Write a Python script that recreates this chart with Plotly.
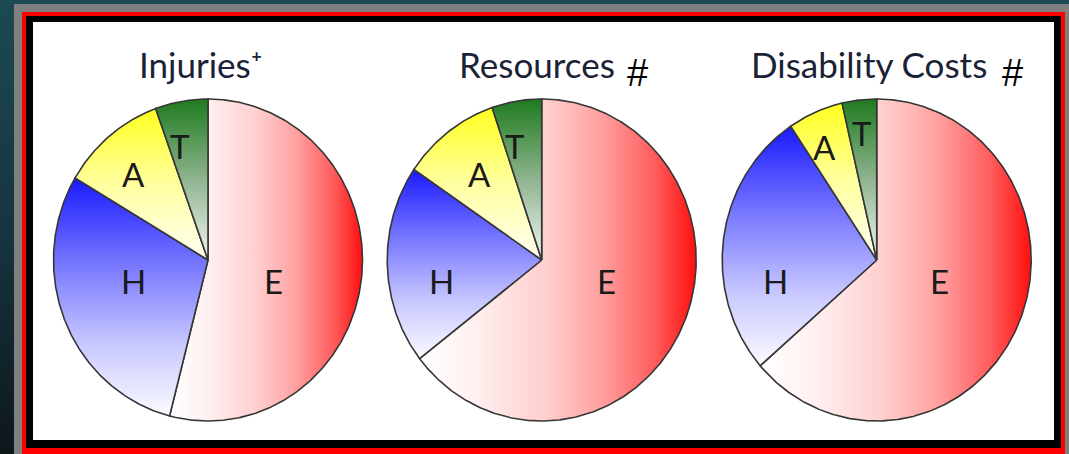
import math
import plotly.graph_objects as go

# ---------------- data ----------------
categories = ["E", "H", "A", "T"]
chart_titles = ["Injuries\u207a", "Resources", "Disability Costs"]
title_marks = ["", "#", "#"]
injuries = [54.0, 29.5, 11.0, 5.5]
resources = [64.5, 20.0, 10.3, 5.2]
disability_costs = [63.6, 27.0, 5.8, 3.6]
series = [injuries, resources, disability_costs]

# ---------------- layout constants (pixels) ----------------
W, H = 1069, 454
centers_x = [208, 541.7, 876.7]
cy = 260
rx, ry = 154.5, 161
title_x = [200, 537, 869]
title_y = 64
mark_x = [None, 637, 1012]
mark_y = 73
# label placement offsets from each pie centre (layout, in pixels)
label_offsets = [
    {"E": (65, 21), "H": (-75, 21), "A": (-75, -86), "T": (-28, -114)},
    {"E": (65, 21), "H": (-100, 21), "A": (-62, -86), "T": (-27, -114)},
    {"E": (63, 21), "H": (-101, 21), "A": (-52, -113), "T": (-15, -127)},
]

slice_fill = {
    "E": ("horizontal", [[0, "#ffffff"], [0.2, "#fff0f0"], [0.45, "#ffcfcf"],
                         [0.65, "#ffa2a2"], [0.85, "#ff5c5c"], [1, "#ff0f0f"]]),
    "H": ("vertical", [[0, "#1a1aff"], [0.35, "#7474ff"], [0.7, "#c8c8ff"], [1, "#fbfbff"]]),
    "A": ("vertical", [[0, "#ffff1e"], [0.5, "#ffffa0"], [1, "#fffff2"]]),
    "T": ("vertical", [[0, "#1e7b1e"], [0.5, "#8fb48f"], [1, "#f2f6f2"]]),
}

fig = go.Figure()


def rect_trace(x0, y0, x1, y1, color=None, gradient=None):
    kw = dict(x=[x0, x1, x1, x0, x0], y=[y0, y0, y1, y1, y0], mode="lines",
              fill="toself", line=dict(width=0), hoverinfo="skip", showlegend=False)
    if gradient is not None:
        kw["fillgradient"] = gradient
        kw["fillcolor"] = "rgba(0,0,0,0)"
    else:
        kw["fillcolor"] = color
    return go.Scatter(**kw)


# background + frame
fig.add_trace(rect_trace(0, 0, W, H, gradient=dict(
    type="vertical", start=0, stop=H,
    colorscale=[[0, "#1c4a52"], [0.5, "#163540"], [1, "#0e171c"]])))
fig.add_trace(rect_trace(14, 4, W, H, "#808080"))
fig.add_trace(rect_trace(22, 12, 1065, H, "#ff0000"))
fig.add_trace(rect_trace(26, 16, 1061, 448, "#000000"))
fig.add_trace(rect_trace(33, 22, 1054, 440, "#ffffff"))

annotations = []

for k, values in enumerate(series):
    cx = centers_x[k]
    total = sum(values)
    a0 = 0.0
    for cat, v in zip(categories, values):
        a1 = a0 + 360.0 * v / total
        n = max(4, int((a1 - a0) * 2))
        xs, ys = [cx], [cy]
        for i in range(n + 1):
            t = math.radians(a0 + (a1 - a0) * i / n)
            xs.append(cx + rx * math.sin(t))
            ys.append(cy - ry * math.cos(t))
        xs.append(cx)
        ys.append(cy)
        gtype, cscale = slice_fill[cat]
        if gtype == "horizontal":
            start, stop = min(xs), max(xs)
        else:
            start, stop = min(ys), max(ys)
        fig.add_trace(go.Scatter(
            x=xs, y=ys, mode="lines", fill="toself",
            fillcolor="rgba(0,0,0,0)",
            fillgradient=dict(type=gtype, colorscale=cscale, start=start, stop=stop),
            line=dict(color="#363636", width=1.6),
            hoverinfo="skip", showlegend=False, name=cat))
        dx, dy = label_offsets[k][cat]
        annotations.append(dict(
            x=cx + dx, y=cy + dy,
            text=cat, showarrow=False, xanchor="center", yanchor="middle",
            font=dict(family="Lato", size=33, color="#1a1a1a")))
        a0 = a1

    annotations.append(dict(
        x=title_x[k], y=title_y, text=chart_titles[k], showarrow=False,
        xanchor="center", yanchor="middle",
        font=dict(family="Lato", size=35, color="#1b2236")))
    if title_marks[k]:
        annotations.append(dict(
            x=mark_x[k], y=mark_y, text=title_marks[k], showarrow=False,
            xanchor="center", yanchor="middle",
            font=dict(family="Liberation Sans", size=38, color="#000000")))

fig.update_layout(
    width=W, height=H,
    margin=dict(l=0, r=0, t=0, b=0, pad=0),
    paper_bgcolor="#14303a", plot_bgcolor="rgba(0,0,0,0)",
    showlegend=False,
    xaxis=dict(range=[0, W], visible=False, fixedrange=True),
    yaxis=dict(range=[H, 0], visible=False, fixedrange=True),
    annotations=annotations,
)

fig.write_html("out.html", config={"displayModeBar": False},
               post_script="document.body.style.margin='0';")
